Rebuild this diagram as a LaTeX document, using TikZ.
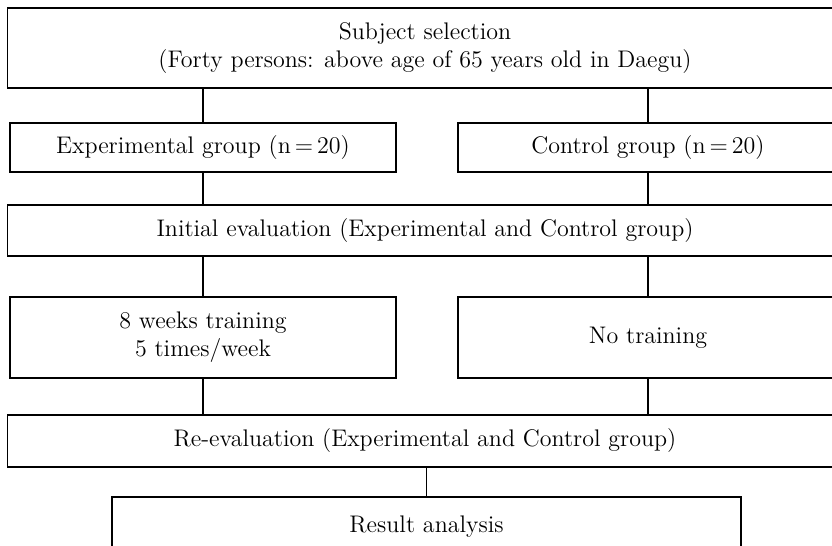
\documentclass[tikz,border=0pt]{standalone}
\usepackage{tikz}

\tikzset{
  box/.style={draw, line width=0.6pt, inner sep=0pt, outer sep=0pt, align=center,
    font=\fontsize{12}{14}\selectfont},
  link/.style={line width=0.6pt}
}

\begin{document}
\begin{tikzpicture}[x=0.5pt, y=-0.5pt]

\useasboundingbox (0,0) rectangle (832,546);
\clip (0,0) rectangle (832,546);

\node[box, minimum width=417.5pt, minimum height=40pt] (sel) at (425,48)
  {Subject selection\\(Forty persons: above age of 65 years old in Daegu)};
\node[box, minimum width=193pt, minimum height=24.5pt] (exp) at (203,147.5)
  {Experimental group (n$\,$=$\,$20)};
\node[box, minimum width=190pt, minimum height=24.5pt] (ctrl) at (648,147.5)
  {Control group (n$\,$=$\,$20)};
\node[box, minimum width=417.5pt, minimum height=25.5pt] (init) at (425,230.5)
  {Initial evaluation (Experimental and Control group)};
\node[box, minimum width=193pt, minimum height=40.5pt] (train) at (203,337.5)
  {8 weeks training\\5 times/week};
\node[box, minimum width=190pt, minimum height=40.5pt] (notrain) at (648,337.5)
  {No training};
\node[box, minimum width=417.5pt, minimum height=26pt] (reeval) at (425,441)
  {Re-evaluation (Experimental and Control group)};
\node[box, minimum width=314.5pt, minimum height=30pt] (result) at (426.5,527)
  {Result analysis};

\draw[link] (exp.north) -- (exp.north |- sel.south);
\draw[link] (ctrl.north) -- (ctrl.north |- sel.south);
\draw[link] (exp.south) -- (exp.south |- init.north);
\draw[link] (ctrl.south) -- (ctrl.south |- init.north);
\draw[link] (train.north) -- (train.north |- init.south);
\draw[link] (notrain.north) -- (notrain.north |- init.south);
\draw[link] (train.south) -- (train.south |- reeval.north);
\draw[link] (notrain.south) -- (notrain.south |- reeval.north);
\draw[link] (result.north) -- (result.north |- reeval.south);

\end{tikzpicture}
\end{document}
